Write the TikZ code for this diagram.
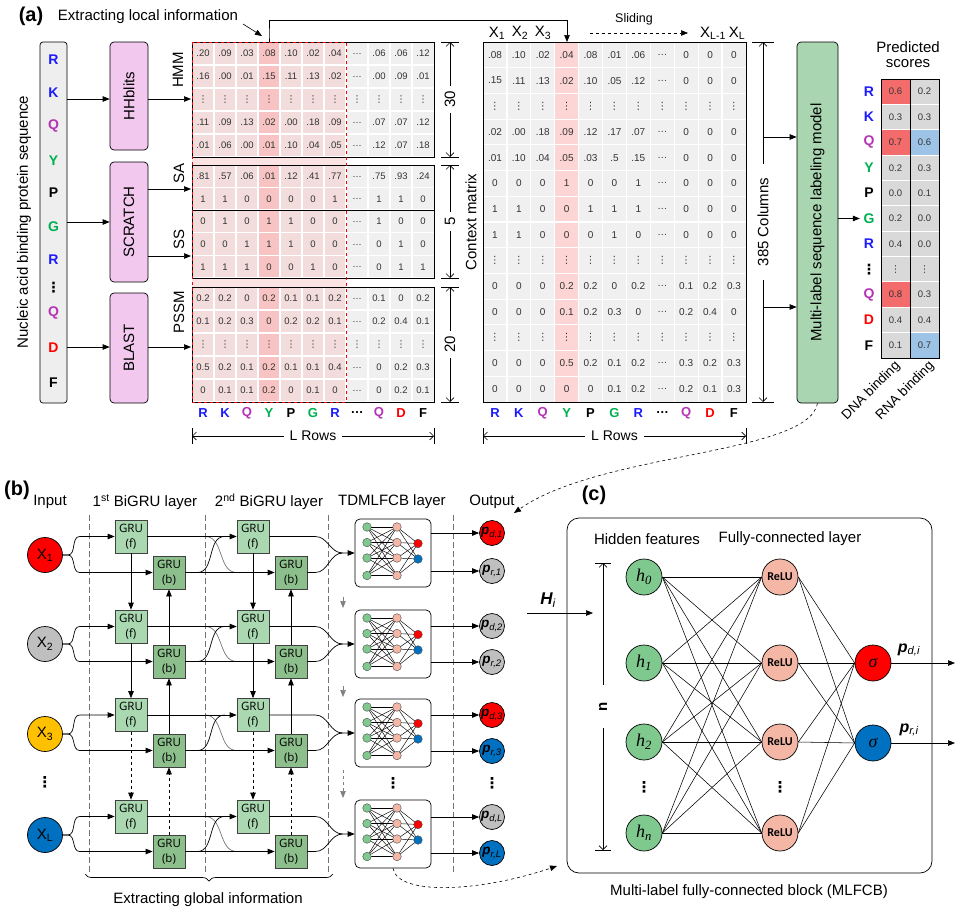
\documentclass[tikz,border=0pt]{standalone}
\usepackage{fontspec}
\setmainfont{Liberation Sans}
\newfontfamily\grufont{Open Sans}
\newfontfamily\crlfont{Carlito}
\newfontfamily\serfont{Liberation Serif}
\newfontfamily\dvfont{DejaVu Sans}
\usetikzlibrary{arrows.meta,calc,decorations.pathreplacing}
\newcommand\fs[1]{\fontsize{#1}{#1}\selectfont}
\newcommand\vd{{\dvfont ⋮}}
\newcommand\hd{\ldots}
\definecolor{cR}{HTML}{1A1AFF}
\definecolor{cQ}{HTML}{B532B5}
\definecolor{cG}{HTML}{00B050}
\definecolor{cD}{HTML}{FF0000}
\definecolor{seqgray}{HTML}{EEEEEE}
\definecolor{pinkbox}{HTML}{F2C8EE}
\definecolor{greenbox}{HTML}{A9D5B0}
\definecolor{cg}{HTML}{F0F0F0}
\definecolor{cp}{HTML}{F2DCDC}
\definecolor{cy}{HTML}{F7C3C3}
\definecolor{cpl}{HTML}{FBE3E3}
\definecolor{cy2}{HTML}{FDD5D5}
\definecolor{tg}{HTML}{D9D9D9}
\definecolor{tr}{HTML}{F46B6B}
\definecolor{tb}{HTML}{9DC3E6}
\definecolor{gruf}{HTML}{A9D8B1}
\definecolor{grub}{HTML}{8CBF8C}
\definecolor{ngreen}{HTML}{7FC98F}
\definecolor{npink}{HTML}{F4B7A6}
\definecolor{nred}{HTML}{FF0000}
\definecolor{nblue}{HTML}{0070C0}
\definecolor{ngray}{HTML}{BFBFBF}
\definecolor{nyel}{HTML}{FFC000}
\newcommand\lblock[3]{%
 \fill[cg] (192,#1) rectangle (434,#2);
 \fill[cp] (192,#1) rectangle (346,#2);
 \fill[cy] (258,#1) rectangle (280,#2);
 \foreach \k in {1,...,10}{\draw[white,line width=1.2pt] ({192+22*\k},#1) -- ({192+22*\k},#2);}
 \pgfmathsetmacro\rh{(#2-#1)/#3}
 \foreach \k in {1,...,#3}{\draw[white,line width=1.2pt] (192,{#1+\rh*\k}) -- (434,{#1+\rh*\k});}
}
\newcommand\lrow[2]{\foreach \cv [count=\ci] in {#2}{\node[lc] at ({192+22*(\ci-0.5)},#1) {\cv};}}
\newcommand\crow[2]{\foreach \cv [count=\ci] in {#2}{\node[cc] at ({483+23.9*(\ci-0.5)},{42+25.714*(#1-0.5)}) {\cv};}}
\newcommand\letrow[4]{\foreach \cl/\lt [count=\ci] in {cR/R,cR/K,cQ/Q,cG/Y,black/P,cG/G,cR/R,black/\ldots,cQ/Q,cD/D,black/F}{\node[font=\fs{13}\bfseries,text=\cl] (#4\ci) at ({#1+#2*(\ci-0.5)},#3) {\lt};}}
\begin{document}
\begin{tikzpicture}[x=1pt,y=-1pt,line width=0.7pt,
 every node/.style={font=\fs{15}},
 arr/.style={-{Triangle[length=7pt,width=5.5pt]}},
 dimarr/.style={{Straight Barb[length=4pt,width=8pt]}-{Straight Barb[length=4pt,width=8pt]},line width=0.6pt},
 lc/.style={font=\fs{9.5},text=black!80,inner sep=0},
 cc/.style={font=\fs{10},text=black!80,inner sep=0},
 tc/.style={font=\fs{9.5},text=black!80,inner sep=0},
 tool/.style={draw,rounded corners=4pt,fill=pinkbox,minimum width=38pt,inner sep=0},
 gf/.style={draw=black!75,fill=gruf,minimum width=32pt,minimum height=33pt,inner sep=0,align=center,font=\grufont\fontsize{11.5}{15}\selectfont},
 gb/.style={gf,fill=grub},
 incirc/.style={circle,draw,minimum size=35pt,inner sep=0},
 outc/.style={circle,draw,minimum size=25pt,inner sep=0,font=\fs{13.5}},
 hnode/.style={circle,draw,minimum size=36pt,inner sep=0,fill=ngreen,font=\serfont\itshape\fs{18}},
 rnode/.style={circle,draw,minimum size=36pt,inner sep=0,fill=npink,font=\crlfont\bfseries\fs{12}},
 dotsty/.style={font=\dvfont\bfseries\fs{15}},
 tick/.style={line width=0.6pt}]
\useasboundingbox (0,0) rectangle (962,910);

% ================= (a) =================
\node[font=\fs{20}\bfseries] (la) at (31,16) {(a)};
\node (eli) at (148,17) {Extracting local information};
\coordinate (eliA) at (243,24); \coordinate (eliB) at (262,36);
\draw[arr,line width=0.6pt] (eliA) -- (eliB);

\node[draw,rounded corners=3pt,fill=seqgray,minimum width=27pt,minimum height=361pt,inner sep=0] (seq) at (53.5,222.5) {};
\foreach \cl/\lt/\yy [count=\ci] in {cR/R/60,cR/K/93,cQ/Q/126,cG/Y/161,black/P/193,cG/G/227,cR/R/260,black/\vd/288,cQ/Q/313,cD/D/348,black/F/383}{
 \node[font=\fs{14}\bfseries,text=\cl] (sq\ci) at (53.5,\yy) {\lt};}
\node[rotate=90] (seqlab) at (24,222) {Nucleic acid binding protein sequence};

\node[tool,minimum height=108pt] (hh) at (129,96) {\rotatebox{90}{HHblits}};
\node[tool,minimum height=120pt] (sc) at (129,222) {\rotatebox{90}{SCRATCH}};
\node[tool,minimum height=110pt] (bl) at (129,348) {\rotatebox{90}{BLAST}};
\coordinate (mHMM) at (191,99);
\coordinate (mSA) at (191,189);
\coordinate (mSS) at (191,256);
\coordinate (mPS) at (191,347);
\draw[arr] (seq.east |- mHMM) -- (hh.west |- mHMM);
\draw[arr] (seq.east |- sc.west) -- (sc.west);
\draw[arr] (seq.east |- mPS) -- (bl.west |- mPS);
\draw[arr] (hh.east |- mHMM) -- (mHMM);
\draw[arr] (sc.east |- mSA) -- (mSA);
\draw[arr] (sc.east |- mSS) -- (mSS);
\draw[arr] (bl.east |- mPS) -- (mPS);
\node[rotate=90] (lHMM) at (178,70) {HMM};
\node[rotate=90] (lSA) at (179,173) {SA};
\node[rotate=90] (lSS) at (179,239) {SS};
\node[rotate=90] (lPS) at (179,312) {PSSM};

% left feature matrix
\lblock{42}{157}{5}
\lblock{165}{210}{2}
\lblock{210}{278}{3}
\lblock{287}{402}{5}
\fill[cpl] (192,157) rectangle (346,165);
\fill[cpl] (192,278) rectangle (346,287);
\draw (192,42) rectangle (434,157);
\draw (192,165) rectangle (434,278);
\draw (192,210) -- (434,210);
\draw (192,287) rectangle (434,402);
\draw[red,dashed,line width=0.8pt] (192,42) rectangle (346,402);
\lrow{53.5}{.20,.09,.03,.08,.10,.02,.04,\hd,.06,.06,.12}
\lrow{76.5}{.16,.00,.01,.15,.11,.13,.02,\hd,.00,.09,.01}
\lrow{99.5}{\vd,\vd,\vd,\vd,\vd,\vd,\vd,\vd,\vd,\vd,\vd}
\lrow{122.5}{.11,.09,.13,.02,.00,.18,.09,\hd,.07,.07,.12}
\lrow{145.5}{.01,.06,.00,.01,.10,.04,.05,\hd,.12,.07,.18}
\lrow{176.5}{.81,.57,.06,.01,.12,.41,.77,\hd,.75,.93,.24}
\lrow{199}{1,1,0,0,0,0,1,\hd,1,1,0}
\lrow{221.5}{0,1,0,1,1,0,0,\hd,1,0,0}
\lrow{244.5}{0,0,1,1,1,0,0,\hd,0,1,0}
\lrow{267}{1,1,1,0,0,1,0,\hd,0,1,1}
\lrow{298.5}{0.2,0.2,0,0.2,0.1,0.1,0.2,\hd,0.1,0,0.2}
\lrow{321.5}{0.1,0.2,0.3,0,0.2,0.2,0.1,\hd,0.2,0.4,0.1}
\lrow{344.5}{\vd,\vd,\vd,\vd,\vd,\vd,\vd,\vd,\vd,\vd,\vd}
\lrow{367.5}{0.5,0.2,0.1,0.2,0.1,0.1,0.4,\hd,0,0.2,0.3}
\lrow{390.5}{0,0.1,0.1,0.2,0,0.1,0,\hd,0,0.2,0.1}
\letrow{192}{22}{413}{lm}

% dimension arrows of left matrix
\draw[tick] (441,42) -- (459,42); \draw[tick] (441,157) -- (459,157);
\draw[tick] (441,165) -- (459,165); \draw[tick] (441,278) -- (459,278);
\draw[tick] (441,287) -- (459,287); \draw[tick] (441,402) -- (459,402);
\draw[dimarr] (450,42) -- (450,157) node[midway,fill=white,rotate=90,inner xsep=5pt,inner ysep=1pt] (d30) {30};
\draw[dimarr] (450,165) -- (450,278) node[midway,fill=white,rotate=90,inner xsep=5pt,inner ysep=1pt] (d5) {5};
\draw[dimarr] (450,287) -- (450,402) node[midway,fill=white,rotate=90,inner xsep=5pt,inner ysep=1pt] (d20) {20};
\draw[tick] (192,428) -- (192,444); \draw[tick] (434,428) -- (434,444);
\draw[dimarr] (192,436) -- (434,436) node[midway,fill=white,font=\fs{14},inner xsep=6pt] (lr1) {L Rows};

% context matrix
\fill[cg] (483,42) rectangle (746,402);
\fill[cy2] (554.7,42) rectangle (578.6,402);
\foreach \k in {1,...,10}{\draw[white,line width=1.2pt] ({483+23.9*\k},42) -- ({483+23.9*\k},402);}
\foreach \k in {1,...,13}{\draw[white,line width=1.2pt] (483,{42+25.714*\k}) -- (746,{42+25.714*\k});}
\draw (483,42) rectangle (746,402);
\crow{1}{.08,.10,.02,.04,.08,.01,.06,\hd,0,0,0}
\crow{2}{.15,.11,.13,.02,.10,.05,.12,\hd,0,0,0}
\crow{3}{\vd,\vd,\vd,\vd,\vd,\vd,\vd,\vd,\vd,\vd,\vd}
\crow{4}{.02,.00,.18,.09,.12,.17,.07,\hd,0,0,0}
\crow{5}{.01,.10,.04,.05,.03,.5,.15,\hd,0,0,0}
\crow{6}{0,0,0,1,0,0,1,\hd,0,0,0}
\crow{7}{1,1,0,0,1,1,1,\hd,0,0,0}
\crow{8}{1,1,0,0,0,1,0,\hd,0,0,0}
\crow{9}{\vd,\vd,\vd,\vd,\vd,\vd,\vd,\vd,\vd,\vd,\vd}
\crow{10}{0,0,0,0.2,0.2,0,0.2,\hd,0.1,0.2,0.3}
\crow{11}{0,0,0,0.1,0.2,0.3,0,\hd,0.2,0.4,0}
\crow{12}{\vd,\vd,\vd,\vd,\vd,\vd,\vd,\vd,\vd,\vd,\vd}
\crow{13}{0,0,0,0.5,0.2,0.1,0.2,\hd,0.3,0.2,0.3}
\crow{14}{0,0,0,0,0,0.1,0.2,\hd,0.2,0.1,0.3}
\letrow{483}{23.9}{413}{lc}
\node[rotate=90] (cmlab) at (471,222) {Context matrix};
\node (hx1) at (497,33) {X\textsubscript{1}};
\node (hx2) at (520,33) {X\textsubscript{2}};
\node (hx3) at (543,33) {X\textsubscript{3}};
\node (hxl1) at (713,33) {X\textsubscript{L-1}};
\node (hxl) at (737,33) {X\textsubscript{L}};
\coordinate (slA) at (590,33); \coordinate (slB) at (688,33);
\draw[arr,dashed,line width=0.6pt] (slA) -- (slB);
\node[font=\fs{12.5}] (slid) at (634,19) {Sliding};
\coordinate (hlTop) at (269,42);
\coordinate (cmTop) at (567,42);
\draw[arr] (hlTop) -- (hlTop |- eliB) -- ++(0,-16) -| (cmTop);
\draw[tick] (483,428) -- (483,444); \draw[tick] (746,428) -- (746,444);
\draw[dimarr] (483,436) -- (746,436) node[midway,fill=white,font=\fs{14},inner xsep=6pt] (lr2) {L Rows};

% 385 columns
\draw[tick] (752,42) -- (774,42); \draw[tick] (752,402) -- (774,402);
\draw[dimarr] (763,42) -- (763,402) node[midway,fill=white,rotate=90,inner xsep=14pt,inner ysep=1pt] (d385) {385 Columns};
\node[draw,rounded corners=4pt,fill=greenbox,minimum width=41pt,minimum height=361pt,inner sep=0] (mlm) at (817.5,222.5) {\rotatebox{90}{Multi-label sequence labeling model}};
\coordinate (c385a) at (763,137);
\coordinate (c385b) at (763,307);
\draw[arr] (c385a) -- (mlm.west |- c385a);
\draw[arr] (c385b) -- (mlm.west |- c385b);

% predicted scores
\node[align=center,font=\fontsize{15}{15}\selectfont] (pred) at (908,55) {Predicted\\scores};
\foreach \cl/\lt/\da/\dc/\rv/\rcl [count=\ci] in {cR/R/0.6/tr/0.2/tg,cR/K/0.3/tg/0.3/tg,cQ/Q/0.7/tr/0.6/tb,cG/Y/0.2/tg/0.3/tg,black/P/0.0/tg/0.1/tg,cG/G/0.2/tg/0.0/tg,cR/R/0.4/tg/0.0/tg,black/\vd/\vd/tg/\vd/tg,cQ/Q/0.8/tr/0.3/tg,cD/D/0.4/tg/0.4/tg,black/F/0.1/tg/0.7/tb}{
 \pgfmathsetmacro\ya{79+25.36*(\ci-1)}
 \pgfmathsetmacro\yz{79+25.36*\ci}
 \pgfmathsetmacro\ym{79+25.36*(\ci-0.5)}
 \fill[\dc] (881,\ya) rectangle (910,\yz);
 \fill[\rcl] (910,\ya) rectangle (939,\yz);
 \node[tc] (dv\ci) at (895.5,\ym) {\da};
 \node[tc] (rv\ci) at (924.5,\ym) {\rv};
 \node[font=\fs{14}\bfseries,text=\cl] (ps\ci) at (869,\ym) {\lt};
}
\foreach \k in {1,...,10}{\draw[white,line width=0.8pt] (881.5,{79+25.36*\k}) -- (938.5,{79+25.36*\k});}
\draw (881,79) rectangle (939,358);
\draw (910,79) -- (910,358);
\draw[arr] (mlm.east |- ps6) -- (ps6.west);
\node[rotate=45,anchor=east,font=\fs{13.5},inner sep=1pt] (dnab) at (899,363) {DNA binding};
\node[rotate=45,anchor=east,font=\fs{13.5},inner sep=1pt] (rnab) at (933,363) {RNA binding};
\coordinate (outTop) at (514,513);
\draw[arr,dashed,line width=0.6pt] (mlm.south) .. controls (808,455) and (600,452) .. (outTop);

% ================= (b) =================
\node[font=\fs{20}\bfseries] (lb) at (17,490) {(b)};
\node (hin) at (50,502) {Input};
\node (h1) at (145,502) {1\textsuperscript{st} BiGRU layer};
\node (h2) at (269,502) {2\textsuperscript{nd} BiGRU layer};
\node (h3) at (392,502) {TDMLFCB layer};
\node (h4) at (492,502) {Output};
\foreach \xx in {89,205,328,453}{\draw[black!55,line width=0.6pt,dash pattern=on 6pt off 3pt] (\xx,515) -- (\xx,873);}

\node[incirc,fill=nred] (in1) at (45,555) {X\textsubscript{1}};
\node[incirc,fill=ngray] (in2) at (45,644) {X\textsubscript{2}};
\node[incirc,fill=nyel] (in3) at (45,734) {X\textsubscript{3}};
\node[incirc,fill=nblue] (in4) at (45,835) {X\textsubscript{L}};
\node[dotsty] (dotin) at (45,782) {⋮};

\foreach \r/\yf/\yb in {1/536.5/572.5,2/626.5/661.5,3/715/750.5,4/816.5/851.5}{
 \node[gf] (fA\r) at (131,\yf) {GRU\\(f)};
 \node[gb] (bA\r) at (169,\yb) {GRU\\(b)};
 \node[gf] (fB\r) at (253,\yf) {GRU\\(f)};
 \node[gb] (bB\r) at (291,\yb) {GRU\\(b)};
}
\foreach \r/\yc in {1/553,2/644,3/733,4/834}{
 \node[draw,rounded corners=5pt,minimum width=76pt,minimum height=68pt,fill=white] (tdk\r) at (393,\yc) {};
 \foreach \a in {-26,-10.5,5,22.5}{\foreach \b in {-26,-10.5,5,22.5}{\draw[line width=0.45pt] (367,{\yc+\a}) -- (397,{\yc+\b});}}
 \foreach \b in {-26,-10.5,5,22.5}{\foreach \o in {-9.5,6}{\draw[line width=0.45pt] (397,{\yc+\b}) -- (418,{\yc+\o});}}
 \foreach \a in {-26,-10.5,5,22.5}{\filldraw[fill=ngreen,draw=black!70,line width=0.4pt] (367,{\yc+\a}) circle (4.3pt);
  \filldraw[fill=npink,draw=black!70,line width=0.4pt] (397,{\yc+\a}) circle (4.3pt);}
 \filldraw[fill=nred,draw=black!70,line width=0.4pt] (418,{\yc-9.5}) circle (4.3pt);
 \filldraw[fill=nblue,draw=black!70,line width=0.4pt] (418,{\yc+6}) circle (4.3pt);
}
\foreach \r in {1,2,3,4}{
 \draw[arr] (in\r.east) -- ++(5,0) to[out=0,in=180] ($(fA\r.west)+(-35,0)$) -- (fA\r.west);
 \draw[arr] (in\r.east) -- ++(5,0) to[out=0,in=180] ($(bA\r.west)+(-73,0)$) -- (bA\r.west);
 \draw[black!55] ($(fA\r.east)+(58,0)$) to[out=0,in=180] ($(bB\r.west)+(-38,0)$);
 \draw ($(bA\r.east)+(12,0)$) to[out=0,in=180] ($(fB\r.west)+(-12,0)$);
 \draw[arr] (fA\r.east) -- (fB\r.west);
 \draw[arr] (bA\r.east) -- (bB\r.west);
 \draw[arr] (fB\r.east) -- ++(46,0) to[out=0,in=180] ($(tdk\r.west)+(-12,0)$) -- (tdk\r.west);
 \draw (bB\r.east) -- ++(8,0) to[out=0,in=180] ($(tdk\r.west)+(-12,0)$);
}
\foreach \L in {A,B}{
 \draw[arr] (f\L1.south) -- (f\L2.north);
 \draw[arr] (f\L2.south) -- (f\L3.north);
 \draw[arr,dashed] (f\L3.south) -- (f\L4.north);
 \draw[arr] (b\L2.north) -- (b\L1.south);
 \draw[arr] (b\L3.north) -- (b\L2.south);
 \draw[arr,dashed] (b\L4.north) -- (b\L3.south);
}
\coordinate (ga1) at (343,597); \coordinate (gb1) at (343,608);
\coordinate (ga2) at (343,686); \coordinate (gb2) at (343,697);
\coordinate (ga3) at (343,770); \coordinate (gb3) at (343,798);
\draw[arr,black!50] (ga1) -- (gb1);
\draw[arr,black!50] (ga2) -- (gb2);
\draw[arr,black!50,dashed] (ga3) -- (gb3);
\node[dotsty] (dottd) at (393,783) {⋮};
\node[dotsty] (dotout) at (492,783) {⋮};

\foreach \r/\yd/\yr/\cd/\cr/\s in {1/533/571/nred/ngray/1,2/626/662/ngray/ngray/2,3/715/751/nred/nblue/3,4/817/853/ngray/nblue/L}{
 \node[outc,fill=\cd] (pd\r) at (492,\yd) {{\bfseries\itshape p}\textsubscript{\itshape d,\s}};
 \node[outc,fill=\cr] (pr\r) at (492,\yr) {{\bfseries\itshape p}\textsubscript{\itshape r,\s}};
 \draw[arr] (tdk\r.east |- pd\r) -- (pd\r.west);
 \draw[arr] (tdk\r.east |- pr\r) -- (pr\r.west);
}
\draw[decorate,decoration={brace,mirror,amplitude=7pt}] (85,874) -- (333,874);
\node (egi) at (208,900) {Extracting global information};
\coordinate (cin) at (557,866);
\draw[arr,dashed,line width=0.6pt] (tdk4.south) .. controls (398,896) and (480,892) .. (cin);

% ================= (c) =================
\node[font=\fs{20}\bfseries] (lcc) at (594,495) {(c)};
\node[draw,rounded corners=12pt,minimum width=365pt,minimum height=355pt] (cbox) at (749.5,695.5) {};
\node (hf) at (647,539) {Hidden features};
\node (fcl) at (790,539) {Fully-connected layer};
\foreach \k/\yy in {0/577,1/663,2/742,n/833}{
 \node[hnode] (hc\k) at (644,\yy) {h\textsubscript{\k}};
 \node[rnode] (rc\k) at (780,\yy) {ReLU};
}
\node[circle,draw,minimum size=36pt,inner sep=0,fill=nred,font=\serfont\itshape\fs{18}] (sd) at (873,663) {σ};
\node[circle,draw,minimum size=36pt,inner sep=0,fill=nblue,font=\serfont\itshape\fs{18}] (sr) at (873,743) {σ};
\foreach \a in {0,1,2,n}{\foreach \b in {0,1,2,n}{\draw[line width=0.55pt] (hc\a.east) -- (rc\b.west);}}
\foreach \b in {0,1,2,n}{\draw[line width=0.55pt] (rc\b.east) -- (sd.west); \draw[line width=0.55pt] (rc\b.east) -- (sr.west);}
\node[dotsty] (dh) at (644,787) {⋮};
\node[dotsty] (dr) at (780,787) {⋮};
\coordinate (od) at (955,663);
\coordinate (or) at (955,743);
\draw[arr] (sd.east) -- (od);
\draw[arr] (sr.east) -- (or);
\node[font=\fs{16}] (lpd) at (909,650) {{\bfseries\itshape p}\textsubscript{\itshape d,i}};
\node[font=\fs{16}] (lpr) at (909,730) {{\bfseries\itshape p}\textsubscript{\itshape r,i}};
\coordinate (hst) at (527,613);
\coordinate (hen) at (593,613);
\draw[arr] (hst) -- (hen);
\node[font=\fs{17}] (hlab) at (548,600) {{\bfseries\itshape H}\textsubscript{\itshape i}};
\draw[tick] (595,563) -- (611,563); \draw[tick] (595,850) -- (611,850);
\draw[dimarr] (603,563) -- (603,850) node[midway,fill=white,rotate=90,inner xsep=17pt,inner ysep=1pt] (nlab) {\bfseries n};
\node (mlf) at (749,892) {Multi-label fully-connected block (MLFCB)};
\end{tikzpicture}
\end{document}
